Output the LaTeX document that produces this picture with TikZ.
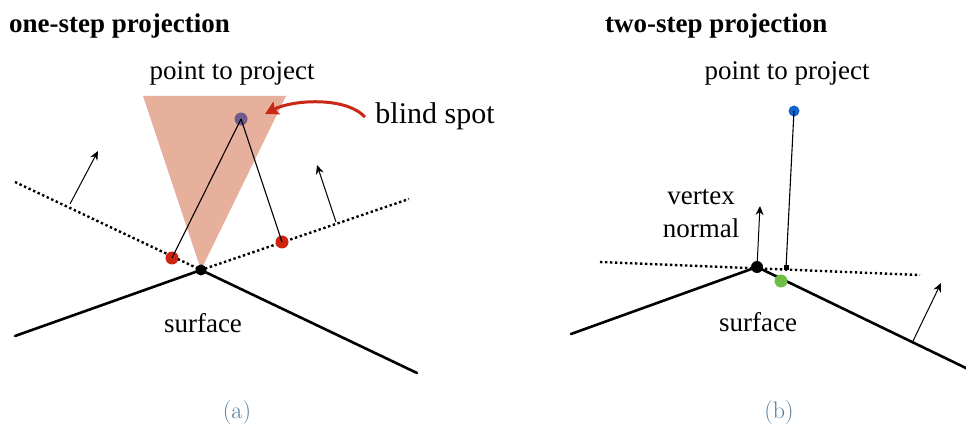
\documentclass[tikz,border=0pt]{standalone}
\usepackage{fontspec}
\setmainfont{Liberation Serif}
\newfontfamily\lmfont{Latin Modern Roman}
\usetikzlibrary{arrows.meta}
\definecolor{salmon}{RGB}{230,176,156}
\definecolor{purp}{RGB}{112,92,140}
\definecolor{dotred}{RGB}{205,35,15}
\definecolor{arrred}{RGB}{200,40,20}
\definecolor{ptblue}{RGB}{20,100,205}
\definecolor{ptgreen}{RGB}{110,190,70}
\definecolor{capblue}{RGB}{85,125,160}
\tikzset{
  lbl/.style={font=\fontsize{27}{30}\selectfont, anchor=base, inner sep=0pt},
  ttl/.style={font=\fontsize{27}{30}\selectfont\bfseries, anchor=base west, inner sep=0pt},
  captxt/.style={font=\fontsize{24}{28}\selectfont\lmfont, text=capblue, anchor=base, inner sep=0pt},
  surf/.style={line width=2.6pt, line cap=round, black},
  plane/.style={line width=2.4pt, dash pattern=on 2.4pt off 2.6pt, black},
  thinln/.style={line width=1.1pt, black},
  nrm/.style={line width=1pt, black, -{Stealth[length=9pt,width=8pt]}},
  dotpt/.style={circle, inner sep=0pt, minimum size=#1},
}
\begin{document}
\begin{tikzpicture}[x=1pt,y=-1pt]
\useasboundingbox (0,0) rectangle (966,427);
% ---------- panel (a) ----------
\node[ttl] (ta) at (9,33) {one-step projection};
\node[lbl] (pa) at (232,80) {point to project};
\node[lbl, font=\fontsize{30}{34}\selectfont] (bs) at (435,124) {blind spot};
\coordinate (tl) at (143,96);
\coordinate (tr) at (286,96);
\coordinate (va) at (201,270);
\fill[salmon] (tl) -- (tr) -- (va) -- cycle;
\coordinate (la) at (15,182);
\coordinate (ra) at (409,199);
\draw[plane] (la) -- (va) -- (ra);
\coordinate (sla) at (15,336);
\coordinate (sra) at (417,373);
\draw[surf] (sla) -- (va) -- (sra);
\coordinate (n1s) at (70,204);
\coordinate (n1e) at (98,151);
\draw[nrm] (n1s) -- (n1e);
\coordinate (n2s) at (336,222);
\coordinate (n2e) at (317,165);
\draw[nrm] (n2s) -- (n2e);
\node[dotpt=13pt, fill=purp] (pp) at (241,119) {};
\node[dotpt=13pt, fill=dotred] (r1) at (172,258) {};
\node[dotpt=13pt, fill=dotred] (r2) at (282,242) {};
\draw[thinln] (pp.center) -- (r1.center);
\draw[thinln] (pp.center) -- (r2.center);
\node[dotpt=11pt, fill=black] (vda) at (va) {};
\coordinate (bsa) at (365,117);
\coordinate (bse) at (265,114);
\draw[arrred, line width=3pt, -{Stealth[length=13pt,width=14pt,inset=2pt]}]
  (bsa) .. controls (345,96) and (292,100) .. (bse);
\node[lbl] (sa) at (203,333) {surface};
\node[captxt] (ca) at (237,418) {(a)};
% ---------- panel (b) ----------
\node[ttl] (tb) at (605,33) {two-step projection};
\node[lbl] (pb) at (787,80) {point to project};
\node[lbl] (vx) at (701,205) {vertex};
\node[lbl] (nm) at (701,238) {normal};
\coordinate (vb) at (757,267);
\coordinate (lb) at (600,262);
\coordinate (rb) at (920,275);
\draw[plane] (lb) -- (rb);
\coordinate (slb) at (571,334);
\coordinate (srb) at (970,370);
\draw[surf] (slb) -- (vb) -- (srb);
\coordinate (vne) at (760,206);
\draw[nrm] (vb) -- (vne);
\coordinate (n3s) at (913,341);
\coordinate (n3e) at (941,283);
\draw[nrm] (n3s) -- (n3e);
\node[dotpt=11pt, fill=ptblue] (bp) at (794,111) {};
\node[rectangle, fill=black, inner sep=0pt, minimum size=5pt] (sq) at (786,268) {};
\draw[thinln] (bp.center) -- (sq.center);
\node[dotpt=12pt, fill=black] (vdb) at (vb) {};
\node[dotpt=13pt, fill=ptgreen] (gp) at (781,281) {};
\node[lbl] (sb) at (758,332) {surface};
\node[captxt] (cb) at (779,418) {(b)};
\end{tikzpicture}
\end{document}
